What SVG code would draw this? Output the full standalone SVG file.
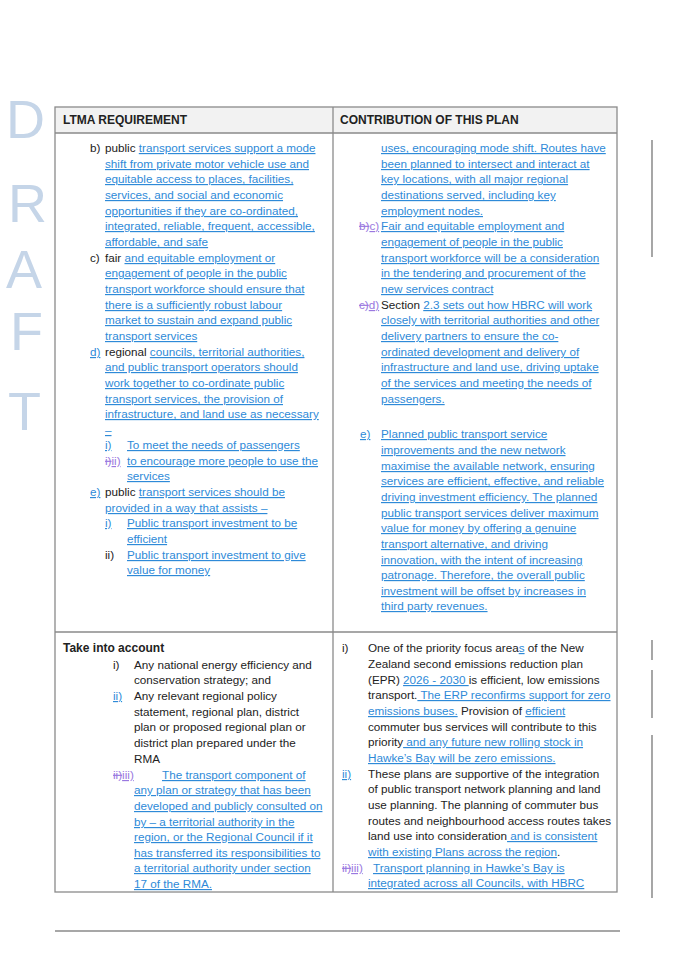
<svg xmlns="http://www.w3.org/2000/svg" width="675" height="962" viewBox="0 0 675 962">
<style>
text{font-family:"Liberation Sans",Arial,sans-serif;font-size:11.7px;fill:#222}
.b{fill:#2e8ad8;text-decoration:underline}
.p{fill:#9a78e0;text-decoration:underline}
.s{fill:#9a78e0;text-decoration:line-through}
.h{font-weight:bold;font-size:12px}
.dr{font-size:54px;fill:#c5d5e8;font-family:"Liberation Sans",Arial,sans-serif}
.ln{stroke:#8a8a8a;stroke-width:1.3;fill:none}
.bar{stroke:#777;stroke-width:1.3}
</style>
<g id="watermark">
<text class="dr" x="6" y="138">D</text>
<text class="dr" x="8" y="222">R</text>
<text class="dr" x="6" y="288">A</text>
<text class="dr" x="10" y="350">F</text>
<text class="dr" x="8" y="430">T</text>
</g>
<g id="table">
<rect x="55" y="107" width="562" height="26" fill="#f2f2f2"/>
<rect class="ln" x="55" y="107" width="562" height="785"/>
<line class="ln" x1="55" y1="133" x2="617" y2="133"/>
<line class="ln" x1="333" y1="107" x2="333" y2="892"/>
<line class="ln" x1="55" y1="632" x2="617" y2="632"/>
<line class="ln" x1="55" y1="931" x2="620" y2="931"/>
<line class="bar" x1="652" y1="140" x2="652" y2="257"/>
<line class="bar" x1="652" y1="640" x2="652" y2="660"/>
<line class="bar" x1="652" y1="670" x2="652" y2="718"/>
<line class="bar" x1="652" y1="735" x2="652" y2="898"/>
</g>
<g id="header">
<text class="h" x="63" y="124">LTMA REQUIREMENT</text>
<text class="h" x="340" y="124">CONTRIBUTION OF THIS PLAN</text>
</g>
<g id="left-top">
<text x="90" y="152">b)</text><text x="105" y="152">public <tspan class="b">transport services support a mode</tspan></text>
<text class="b" x="105" y="168">shift from private motor vehicle use and</text>
<text class="b" x="105" y="183">equitable access to places, facilities,</text>
<text class="b" x="105" y="199">services, and social and economic</text>
<text class="b" x="105" y="215">opportunities if they are co-ordinated,</text>
<text class="b" x="105" y="230">integrated, reliable, frequent, accessible,</text>
<text class="b" x="105" y="246">affordable, and safe</text>
<text x="90" y="262">c)</text><text x="105" y="262">fair <tspan class="b">and equitable employment or</tspan></text>
<text class="b" x="105" y="277">engagement of people in the public</text>
<text class="b" x="105" y="293">transport workforce should ensure that</text>
<text class="b" x="105" y="309">there is a sufficiently robust labour</text>
<text class="b" x="105" y="324">market to sustain and expand public</text>
<text class="b" x="105" y="340">transport services</text>
<text class="b" x="90" y="356">d)   </text><text x="105" y="356">regional <tspan class="b">councils, territorial authorities,</tspan></text>
<text class="b" x="105" y="371">and public transport operators should</text>
<text class="b" x="105" y="387">work together to co-ordinate public</text>
<text class="b" x="105" y="403">transport services, the provision of</text>
<text class="b" x="105" y="418">infrastructure, and land use as necessary</text>
<text class="b" x="105" y="434">–</text>
<text class="b" x="105" y="449">i)</text><text class="b" x="127" y="449">To meet the needs of passengers</text>
<text x="105" y="465"><tspan class="s">i)</tspan><tspan class="p">ii)</tspan></text><text class="b" x="127" y="465">to encourage more people to use the</text>
<text class="b" x="127" y="480">services</text>
<text class="b" x="90" y="496">e)</text><text x="105" y="496">public <tspan class="b">transport services should be</tspan></text>
<text class="b" x="105" y="512">provided in a way that assists –</text>
<text class="b" x="105" y="527">i)</text><text class="b" x="127" y="527">Public transport investment to be</text>
<text class="b" x="127" y="543">efficient</text>
<text x="105" y="559">ii)</text><text class="b" x="127" y="559">Public transport investment to give</text>
<text class="b" x="127" y="574">value for money</text>
</g>
<g id="right-top">
<text class="b" x="381" y="152">uses, encouraging mode shift. Routes have</text>
<text class="b" x="381" y="168">been planned to intersect and interact at</text>
<text class="b" x="381" y="183">key locations, with all major regional</text>
<text class="b" x="381" y="199">destinations served, including key</text>
<text class="b" x="381" y="215">employment nodes.</text>
<text x="359" y="230"><tspan class="s">b)</tspan><tspan class="p">c)</tspan></text><text class="b" x="381" y="230">Fair and equitable employment and</text>
<text class="b" x="381" y="246">engagement of people in the public</text>
<text class="b" x="381" y="262">transport workforce will be a consideration</text>
<text class="b" x="381" y="277">in the tendering and procurement of the</text>
<text class="b" x="381" y="293">new services contract</text>
<text x="359" y="309"><tspan class="s">c)</tspan><tspan class="p">d)</tspan></text><text x="381" y="309">Section <tspan class="b">2.3 sets out how HBRC will work</tspan></text>
<text class="b" x="381" y="324">closely with territorial authorities and other</text>
<text class="b" x="381" y="340">delivery partners to ensure the co-</text>
<text class="b" x="381" y="356">ordinated development and delivery of</text>
<text class="b" x="381" y="371">infrastructure and land use, driving uptake</text>
<text class="b" x="381" y="387">of the services and meeting the needs of</text>
<text class="b" x="381" y="403">passengers.</text>
<text class="b" x="360" y="438">e)</text><text class="b" x="381" y="438">Planned public transport service</text>
<text class="b" x="381" y="454">improvements and the new network</text>
<text class="b" x="381" y="470">maximise the available network, ensuring</text>
<text class="b" x="381" y="485">services are efficient, effective, and reliable</text>
<text class="b" x="381" y="501">driving investment efficiency. The planned</text>
<text class="b" x="381" y="517">public transport services deliver maximum</text>
<text class="b" x="381" y="532">value for money by offering a genuine</text>
<text class="b" x="381" y="548">transport alternative, and driving</text>
<text class="b" x="381" y="564">innovation, with the intent of increasing</text>
<text class="b" x="381" y="579">patronage. Therefore, the overall public</text>
<text class="b" x="381" y="595">investment will be offset by increases in</text>
<text class="b" x="381" y="610">third party revenues.</text>
</g>
<g id="left-bottom">
<text class="h" x="63" y="652">Take into account</text>
<text x="113" y="669">i)</text><text x="134" y="669">Any national energy efficiency and</text>
<text x="134" y="684">conservation strategy; and</text>
<text class="b" x="113" y="700">ii)</text><text x="134" y="700">Any relevant regional policy</text>
<text x="134" y="716">statement, regional plan, district</text>
<text x="134" y="731">plan or proposed regional plan or</text>
<text x="134" y="747">district plan prepared under the</text>
<text x="134" y="763">RMA</text>
<text x="113" y="779"><tspan class="s">ii)</tspan><tspan class="p">iii)</tspan></text><text class="b" x="162" y="779">The transport component of</text>
<text class="b" x="134" y="794">any plan or strategy that has been</text>
<text class="b" x="134" y="810">developed and publicly consulted on</text>
<text class="b" x="134" y="826">by – a territorial authority in the</text>
<text class="b" x="134" y="841">region, or the Regional Council if it</text>
<text class="b" x="134" y="857">has transferred its responsibilities to</text>
<text class="b" x="134" y="872">a territorial authority under section</text>
<text class="b" x="134" y="888">17 of the RMA.</text>
</g>
<g id="right-bottom">
<text x="342" y="652">i)</text><text x="368" y="652">One of the priority focus area<tspan class="b">s</tspan> of the New</text>
<text x="368" y="668">Zealand second emissions reduction plan</text>
<text x="368" y="684">(EPR) <tspan class="b">2026 - 2030 </tspan>is efficient, low emissions</text>
<text x="368" y="699">transport.<tspan class="b"> The ERP reconfirms support for zero</tspan></text>
<text x="368" y="715"><tspan class="b">emissions buses.</tspan> Provision of <tspan class="b">efficient</tspan></text>
<text x="368" y="731">commuter bus services will contribute to this</text>
<text x="368" y="746">priority<tspan class="b"> and any future new rolling stock in</tspan></text>
<text class="b" x="368" y="762">Hawke’s Bay will be zero emissions.</text>
<text class="b" x="342" y="778">ii)</text><text x="368" y="778">These plans are supportive of the integration</text>
<text x="368" y="793">of public transport network planning and land</text>
<text x="368" y="809">use planning. The planning of commuter bus</text>
<text x="368" y="825">routes and neighbourhood access routes takes</text>
<text x="368" y="840">land use into consideration<tspan class="b"> and is consistent</tspan></text>
<text x="368" y="856"><tspan class="b">with existing Plans across the region</tspan>.</text>
<text x="342" y="872"><tspan class="s">ii)</tspan><tspan class="p">iii)</tspan></text><text class="b" x="373" y="872">Transport planning in Hawke’s Bay is</text>
<text class="b" x="368" y="887">integrated across all Councils, with HBRC</text>
</g>
</svg>
